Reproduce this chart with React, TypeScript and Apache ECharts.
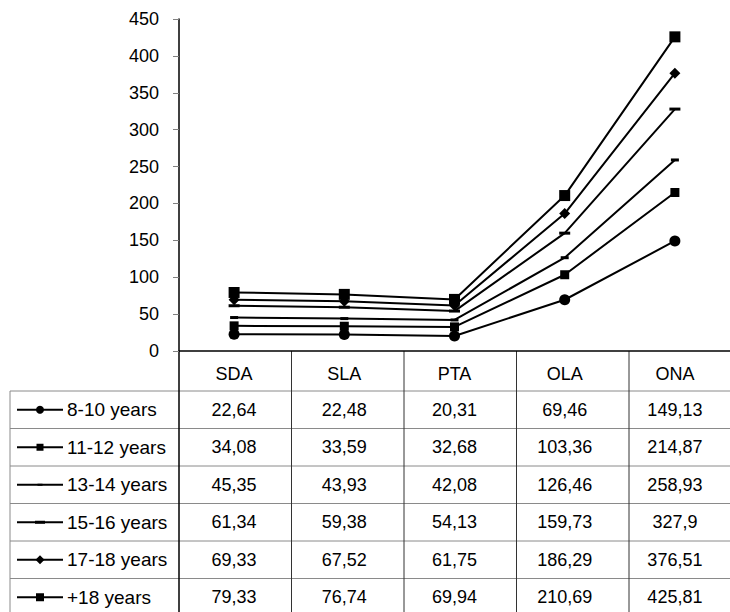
import React, { useEffect, useRef } from "react";
import * as echarts from "echarts";

const categories = ["SDA", "SLA", "PTA", "OLA", "ONA"];
const seriesNames = ["8-10 years", "11-12 years", "13-14 years", "15-16 years", "17-18 years", "+18 years"];
const v810 = [22.64, 22.48, 20.31, 69.46, 149.13];
const v1112 = [34.08, 33.59, 32.68, 103.36, 214.87];
const v1314 = [45.35, 43.93, 42.08, 126.46, 258.93];
const v1516 = [61.34, 59.38, 54.13, 159.73, 327.9];
const v1718 = [69.33, 67.52, 61.75, 186.29, 376.51];
const v18p = [79.33, 76.74, 69.94, 210.69, 425.81];
const seriesValues = [v810, v1112, v1314, v1516, v1718, v18p];
const yTicks = [0, 50, 100, 150, 200, 250, 300, 350, 400, 450];

const FONT = "'Liberation Sans', Arial, sans-serif";

// marker styles (plot, legend)
const markers: { symbol: string; size: any; legendSize: any }[] = [
  { symbol: "circle", size: 11, legendSize: 8 },
  { symbol: "rect", size: 9, legendSize: 7 },
  { symbol: "rect", size: [8, 3], legendSize: [5, 2] },
  { symbol: "rect", size: [11, 3], legendSize: [10, 3] },
  { symbol: "diamond", size: 11, legendSize: 9 },
  { symbol: "rect", size: 11, legendSize: 8 },
];

const GRID_LEFT = 179;
const GRID_TOP = 19;
const GRID_H = 332;
const COL_W = 112.5;
const TABLE_TOP = 391;
const ROW_H = 37.5;
const TABLE_LEFT = 10;
const W = 730;
const H = 612;

export default function App() {
  const ref = useRef<HTMLDivElement>(null);
  useEffect(() => {
    if (!ref.current) return;
    const chart = echarts.init(ref.current, null, { renderer: "svg" });
    chart.setOption({
      animation: false,
      grid: { left: GRID_LEFT, top: GRID_TOP, width: COL_W * categories.length, height: GRID_H },
      xAxis: {
        type: "category",
        data: categories,
        boundaryGap: true,
        axisLine: { lineStyle: { color: "#000", width: 1.5 } },
        axisTick: { show: false },
        axisLabel: { color: "#000", fontFamily: FONT, fontSize: 18, margin: 14 },
      },
      yAxis: {
        type: "value",
        min: yTicks[0],
        max: yTicks[yTicks.length - 1],
        interval: 50,
        axisLine: { show: true, lineStyle: { color: "#000", width: 1.5 } },
        axisTick: { show: true, length: 6, lineStyle: { color: "#808080" } },
        splitLine: { show: false },
        axisLabel: { color: "#000", fontFamily: FONT, fontSize: 18, margin: 20 },
      },
      series: seriesNames.map((name, i) => ({
        name,
        type: "line",
        data: seriesValues[i],
        symbol: markers[i].symbol,
        symbolSize: markers[i].size,
        showAllSymbol: true,
        lineStyle: { color: "#000", width: 2 },
        itemStyle: { color: "#000" },
        z: 3,
      })),
    });

    const graphics: any[] = [];
    const bottom = H;
    for (let i = 0; i <= seriesNames.length; i++) {
      const y = TABLE_TOP + ROW_H * i;
      graphics.push({
        type: "line",
        shape: { x1: TABLE_LEFT, y1: y, x2: W, y2: y },
        style: { stroke: "#8a8a8a", lineWidth: 1 },
        silent: true,
      });
    }
    graphics.push({
      type: "line",
      shape: { x1: TABLE_LEFT, y1: TABLE_TOP, x2: TABLE_LEFT, y2: bottom },
      style: { stroke: "#8a8a8a", lineWidth: 1 },
    });
    graphics.push({
      type: "line",
      shape: { x1: GRID_LEFT, y1: GRID_TOP + GRID_H, x2: GRID_LEFT, y2: bottom },
      style: { stroke: "#000", lineWidth: 1.5 },
    });
    for (let c = 1; c < categories.length; c++) {
      const x = GRID_LEFT + COL_W * c;
      graphics.push({
        type: "line",
        shape: { x1: x, y1: GRID_TOP + GRID_H, x2: x, y2: bottom },
        style: { stroke: "#333", lineWidth: 1 },
      });
    }
    seriesNames.forEach((name, i) => {
      const cy = TABLE_TOP + ROW_H * i + ROW_H / 2;
      graphics.push({
        type: "line",
        shape: { x1: 17, y1: cy, x2: 63, y2: cy },
        style: { stroke: "#000", lineWidth: 2 },
      });
      const m = markers[i];
      const mx = 40;
      if (m.symbol === "circle") {
        graphics.push({ type: "circle", shape: { cx: mx, cy, r: m.legendSize / 2 }, style: { fill: "#000" } });
      } else if (m.symbol === "diamond") {
        const s = m.legendSize / 2;
        graphics.push({
          type: "polygon",
          shape: { points: [[mx, cy - s], [mx + s, cy], [mx, cy + s], [mx - s, cy]] },
          style: { fill: "#000" },
        });
      } else {
        const sz = Array.isArray(m.legendSize) ? m.legendSize : [m.legendSize, m.legendSize];
        graphics.push({
          type: "rect",
          shape: { x: mx - sz[0] / 2, y: cy - sz[1] / 2, width: sz[0], height: sz[1] },
          style: { fill: "#000" },
        });
      }
      graphics.push({
        type: "text",
        x: 67,
        y: cy,
        style: { text: name, fill: "#000", font: `19px ${FONT}`, verticalAlign: "middle", align: "left" },
      });
      seriesValues[i].forEach((v, c) => {
        const px = chart.convertToPixel({ xAxisIndex: 0 }, categories[c]) as number;
        graphics.push({
          type: "text",
          x: px,
          y: cy,
          style: {
            text: String(v).replace(".", ","),
            fill: "#000",
            font: `18px ${FONT}`,
            verticalAlign: "middle",
            align: "center",
          },
        });
      });
    });
    chart.setOption({ graphic: graphics });
    return () => chart.dispose();
  }, []);
  return (
    <div
      ref={ref}
      style={{ position: "fixed", left: 0, top: 0, width: W, height: H, background: "#fff" }}
    />
  );
}
